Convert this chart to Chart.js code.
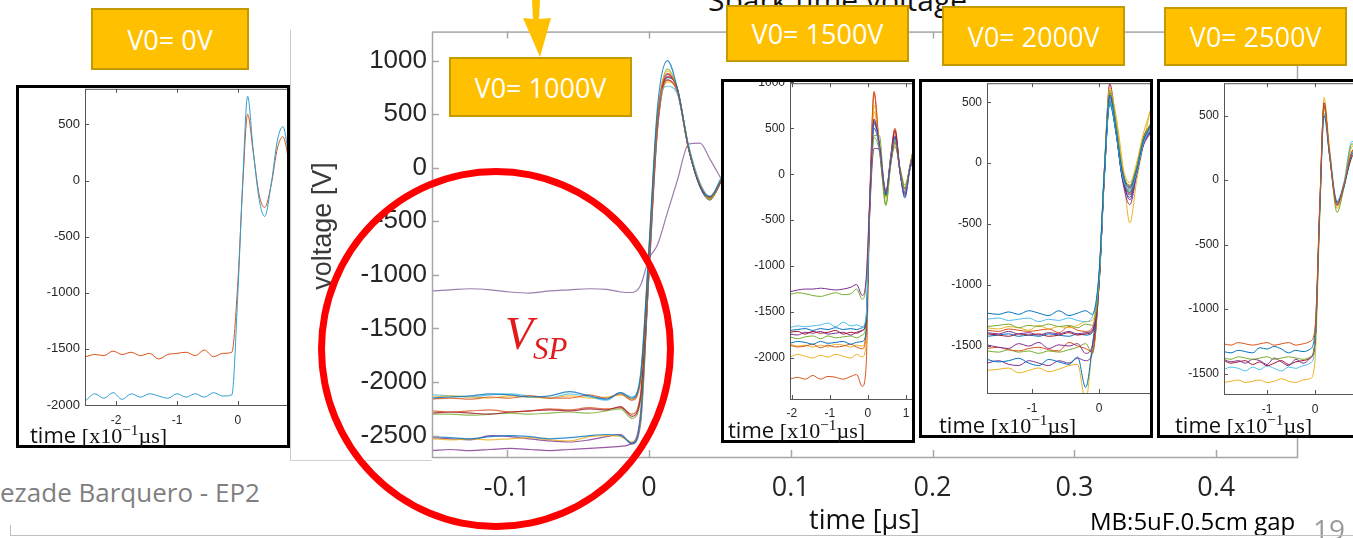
<!DOCTYPE html>
<html>
<head>
<meta charset="utf-8">
<script src="https://cdn.jsdelivr.net/npm/chart.js@4.4.1/dist/chart.umd.min.js"></script>
<style>
  html, body { margin: 0; padding: 0; }
  body { width: 1353px; height: 538px; position: relative; overflow: hidden; background: #fff; font-family: "Open Sans", sans-serif; }
  .abs { position: absolute; white-space: nowrap; }
  .inset { position: absolute; border: 3px solid #000; background: #fff; overflow: hidden; box-sizing: border-box; }
  .inset canvas { position: absolute; left: 0; top: 0; }
  .tag { position: absolute; background: #ffc000; border: 2px solid #c49a00; box-sizing: border-box; color: #fff; font: 27px "Open Sans"; display: flex; align-items: center; justify-content: center; }
  .tlabel { position: absolute; font: 22px "Liberation Serif"; line-height: 1; color: #111; white-space: nowrap; }
  .tlabel .s { font-family: "Open Sans"; }
  .tlabel .sup { font-size: 0.7em; position: relative; top: -0.55em; }
</style>
</head>
<body>
<div class="abs" style="left:708px;top:-15px;font:30px 'Open Sans';line-height:1;color:#111">Spark time voltage</div>

<div class="abs" style="left:290px;top:30px;width:1px;height:430px;background:#c8c8c8"></div>
<div class="abs" style="left:290px;top:460px;width:142px;height:1px;background:#d0d0d0"></div>
<canvas id="mainChart" class="abs" style="left:295px;top:20px" width="1010" height="518"></canvas>
<div class="abs" style="left:322px;top:226px;transform:translate(-50%,-50%) rotate(-90deg);font:27px 'Liberation Sans';color:#3a3a3a">voltage [V]</div>

<div class="inset" style="left:16px;top:85px;width:274px;height:363px"><canvas id="c0" width="281" height="357"></canvas></div>
<div class="inset" style="left:721px;top:79px;width:194px;height:364px"><canvas id="c1500" width="201" height="358"></canvas></div>
<div class="inset" style="left:919px;top:79px;width:234px;height:359px"><canvas id="c2000" width="238" height="353"></canvas></div>
<div class="inset" style="left:1157px;top:79px;width:260px;height:359px"><canvas id="c2500" width="250" height="353"></canvas></div>

<div class="tlabel" style="left:30px;top:423px"><span class="s">time </span>[x10<span class="sup">−1</span>µs]</div>
<div class="tlabel" style="left:728px;top:418px"><span class="s">time </span>[x10<span class="sup">−1</span>µs]</div>
<div class="tlabel" style="left:939px;top:413px"><span class="s">time </span>[x10<span class="sup">−1</span>µs]</div>
<div class="tlabel" style="left:1175px;top:413px"><span class="s">time </span>[x10<span class="sup">−1</span>µs]</div>

<div class="tag" style="left:91px;top:8px;width:158px;height:62px">V0= 0V</div>
<div class="tag" style="left:449px;top:57px;width:183px;height:60px">V0= 1000V</div>
<div class="tag" style="left:726px;top:5px;width:183px;height:57px">V0= 1500V</div>
<div class="tag" style="left:942px;top:6px;width:183px;height:60px">V0= 2000V</div>
<div class="tag" style="left:1164px;top:7px;width:183px;height:59px">V0= 2500V</div>

<svg class="abs" style="left:515px;top:0" width="40" height="60">
  <polygon points="17,0 25,0 24,19 36,18 25,57 8,18 18,19" fill="#ffc000"/>
</svg>

<div class="abs" style="left:318px;top:168px;width:356px;height:362px;border:7px solid #ff0000;border-radius:50%;box-sizing:border-box"></div>
<div class="abs" style="left:505px;top:311px;font:italic 46px 'Liberation Serif';line-height:1;color:#e31a1c">V<span style="font-size:31px;position:relative;top:10px">SP</span></div>

<div class="abs" style="left:0px;top:477px;font:26px 'Open Sans';line-height:1.2;color:#7f7f7f">ezade Barquero - EP2</div>
<div class="abs" style="left:1090px;top:507px;font:24px 'Open Sans';line-height:1.2;color:#000">MB:5uF.0.5cm gap</div>
<div class="abs" style="left:1313px;top:515px;font:28px 'Open Sans';line-height:1;color:#9a9a9a">19</div>
<div class="abs" style="left:10px;top:535px;width:1343px;height:1px;background:#bfbfbf"></div>
<div class="abs" style="left:10px;top:525px;width:1px;height:11px;background:#bfbfbf"></div>

<script>
// MATLAB default line colours
const BLUE = "#0072BD", ORANGE = "#D95319", YELLOW = "#EDB120", PURPLE = "#7E2F8E";
const GREEN = "#77AC30", LBLUE = "#4DBEEE", DRED = "#A2142F";

// ---- main plot: V0 = 1000 V, time in µs, voltage in V ----
const mainTime = [-0.153, -0.14, -0.126, -0.112, -0.098, -0.084, -0.07, -0.056, -0.042, -0.03, -0.02, -0.012,
  -0.006, 0, 0.006, 0.013, 0.02, 0.028, 0.036, 0.043, 0.052];
const mainTicksX = [-0.1, 0, 0.1, 0.2, 0.3, 0.4];
const mainTicksY = [-2500, -2000, -1500, -1000, -500, 0, 500, 1000];
const mainBlueA = [-2150, -2140, -2130, -2110, -2120, -2140, -2130, -2090, -2130, -2160, -2100, -2150, -1950, -750, 560, 1000, 740, 190, -170, -270, -80];
const mainOrangeA = [-2160, -2150, -2160, -2140, -2150, -2130, -2150, -2150, -2120, -2150, -2110, -2170, -2000, -800, 460, 880, 720, 170, -160, -280, -90];
const mainYellowA = [-2140, -2130, -2140, -2150, -2130, -2140, -2150, -2130, -2150, -2140, -2120, -2160, -1980, -780, 480, 900, 730, 190, -150, -290, -70];
const mainLBlueA = [-2120, -2130, -2140, -2120, -2110, -2130, -2150, -2110, -2140, -2170, -2100, -2140, -1930, -760, 500, 760, 690, 200, -140, -270, -60];
const mainRedB = [-2290, -2280, -2290, -2300, -2280, -2270, -2260, -2270, -2250, -2260, -2230, -2320, -2150, -850, 450, 850, 740, 180, -170, -280, -100];
const mainGreenB = [-2300, -2300, -2310, -2300, -2290, -2300, -2290, -2280, -2290, -2270, -2250, -2340, -2180, -860, 430, 920, 730, 200, -150, -300, -90];
const mainOrangeB = [-2270, -2280, -2270, -2260, -2280, -2270, -2250, -2260, -2240, -2250, -2240, -2300, -2120, -840, 440, 820, 710, 170, -160, -270, -80];
const mainBlueC = [-2510, -2520, -2530, -2510, -2500, -2510, -2530, -2520, -2500, -2490, -2500, -2570, -2350, -950, 400, 840, 740, 180, -170, -290, -100];
const mainYellowC = [-2530, -2540, -2530, -2540, -2530, -2520, -2540, -2550, -2510, -2500, -2510, -2560, -2380, -960, 380, 800, 720, 190, -160, -280, -80];
const mainPurpleC = [-2520, -2530, -2540, -2500, -2510, -2530, -2550, -2560, -2540, -2510, -2490, -2580, -2400, -980, 370, 870, 730, 180, -180, -300, -90];
const mainPurpleLow = [-2640, -2630, -2640, -2630, -2620, -2630, -2640, -2630, -2620, -2610, -2600, -2570, -2300, -1000, 350, 820, 710, 170, -170, -290, -100];
const mainPurpleSlow = [-1150, -1140, -1130, -1140, -1160, -1170, -1150, -1140, -1130, -1135, -1160, -1165, -1100, -850, -720, -420, -120, 220, 230, 80, -130];

// ---- V0 = 0 V inset, time in 1e-1 µs ----
const zeroTime = [-2.5, -2.35, -2.2, -2.05, -1.9, -1.75, -1.6, -1.45, -1.3, -1.15, -1.0, -0.85, -0.7, -0.55,
  -0.4, -0.25, -0.1, 0, 0.08, 0.16, 0.25, 0.35, 0.44, 0.55, 0.65, 0.74, 0.84, 0.95];
const zeroTicksX = [-2, -1, 0];
const zeroTicksY = [-2000, -1500, -1000, -500, 0, 500];
const zeroBlue = [-1960, -1900, -1940, -1890, -1950, -1900, -1930, -1900, -1920, -1940, -1900, -1930, -1900, -1930, -1890, -1920, -1910, -1000, 0, 750, 280, -170, -320, -20, 360, 480, 210, -50];
const zeroOrange = [-1570, -1550, -1560, -1520, -1550, -1530, -1560, -1540, -1590, -1550, -1540, -1530, -1560, -1510, -1570, -1540, -1530, -900, -40, 590, 260, -130, -240, -30, 290, 390, 170, -40];

// ---- V0 = 1500 V inset ----
const t1500 = [-2.05, -1.85, -1.65, -1.45, -1.25, -1.05, -0.85, -0.65, -0.45, -0.3, -0.15, -0.05,
  0.05, 0.16, 0.3, 0.47, 0.6, 0.71, 0.85, 0.97, 1.1, 1.18];
const ticks1500X = [-2, -1, 0, 1];
const ticks1500Y = [-2000, -1500, -1000, -500, 0, 500, 1000];
const k1500a = [-1280, -1260, -1250, -1250, -1240, -1250, -1260, -1250, -1230, -1200, -1320, -1150, -250, 560, 330, -200, 150, 420, 0, -240, 60, 200];
const k1500b = [-1310, -1290, -1300, -1320, -1330, -1310, -1290, -1310, -1300, -1250, -1360, -1200, -300, 420, 420, -330, 100, 360, 20, -150, 80, 250];
const k1500c = [-1670, -1650, -1660, -1650, -1640, -1620, -1660, -1610, -1650, -1640, -1660, -1550, -250, 550, 300, -200, 180, 380, 10, -200, 60, 200];
const k1500d = [-1700, -1690, -1680, -1700, -1680, -1690, -1670, -1690, -1680, -1690, -1670, -1580, -260, 580, 320, -230, 170, 400, 0, -260, 40, 180];
const k1500e = [-1720, -1710, -1740, -1710, -1730, -1720, -1700, -1740, -1720, -1730, -1700, -1600, -280, 600, 300, -200, 200, 480, 20, -200, 80, 220];
const k1500f = [-1740, -1750, -1720, -1730, -1710, -1740, -1730, -1720, -1750, -1720, -1700, -1620, -400, 280, 270, -180, 130, 350, 30, -160, 50, 160];
const k1500g = [-1770, -1790, -1770, -1760, -1790, -1760, -1780, -1770, -1760, -1780, -1750, -1650, -350, 400, 250, -340, 120, 300, 60, -120, 70, 200];
const k1500h = [-1840, -1820, -1830, -1850, -1820, -1840, -1830, -1820, -1850, -1830, -1820, -1720, -300, 500, 300, -220, 150, 400, 0, -220, 60, 200];
const k1500i = [-1860, -1880, -1870, -1850, -1890, -1860, -1880, -1870, -1850, -1880, -1900, -1750, -200, 900, 300, -230, 200, 500, 20, -200, 80, 250];
const k1500j = [-1850, -1870, -1860, -1880, -1860, -1880, -1850, -1860, -1880, -1860, -1870, -1740, -250, 750, 320, -250, 150, 380, 40, -180, 90, 230];
const k1500k = [-1990, -1960, -1980, -2000, -1970, -1990, -1960, -1980, -2000, -1960, -1990, -1850, -300, 680, 330, -260, 120, 320, 30, -150, 70, 190];
const k1500l = [-2230, -2210, -2230, -2190, -2230, -2200, -2210, -2230, -2200, -2180, -2310, -2100, -350, 880, 280, -220, 180, 460, 0, -210, 70, 210];

// ---- V0 = 2000 V inset ----
const t2000 = [-1.67, -1.5, -1.35, -1.2, -1.05, -0.9, -0.75, -0.6, -0.45, -0.32, -0.2, -0.1,
  0, 0.08, 0.16, 0.25, 0.35, 0.46, 0.56, 0.66, 0.76];
const ticks2000X = [-1, 0];
const ticks2000Y = [-1500, -1000, -500, 0, 500];
const k2000a = [-1230, -1240, -1220, -1240, -1210, -1230, -1250, -1210, -1250, -1230, -1210, -1240, -900, -50, 560, 300, -80, -200, -60, 180, 300];
const k2000b = [-1280, -1270, -1290, -1280, -1270, -1300, -1280, -1290, -1270, -1290, -1300, -1260, -920, -80, 520, 280, -100, -220, -80, 160, 280];
const k2000c = [-1340, -1330, -1320, -1350, -1330, -1340, -1320, -1340, -1330, -1350, -1320, -1330, -950, -60, 600, 330, -60, -180, -30, 200, 320];
const k2000d = [-1350, -1360, -1340, -1350, -1370, -1330, -1360, -1340, -1350, -1330, -1300, -1290, -940, -40, 620, 380, -20, -160, 0, 240, 420];
const k2000e = [-1370, -1380, -1360, -1370, -1380, -1370, -1360, -1390, -1340, -1370, -1380, -1350, -930, -70, 580, 320, -70, -210, -50, 190, 300];
const k2000f = [-1390, -1400, -1380, -1400, -1390, -1410, -1390, -1400, -1380, -1400, -1390, -1370, -960, -90, 540, 290, -110, -300, -90, 150, 260];
const k2000g = [-1400, -1410, -1420, -1400, -1410, -1400, -1420, -1410, -1390, -1410, -1400, -1380, -950, -50, 650, 340, -60, -190, -40, 210, 310];
const k2000h = [-1420, -1410, -1400, -1420, -1410, -1420, -1400, -1410, -1420, -1400, -1410, -1390, -970, -100, 480, 260, -120, -240, -70, 170, 270];
const k2000i = [-1490, -1510, -1520, -1480, -1500, -1470, -1520, -1490, -1500, -1480, -1560, -1500, -990, -110, 520, 270, -140, -340, -100, 140, 240];
const k2000j = [-1520, -1510, -1530, -1540, -1520, -1510, -1530, -1540, -1470, -1500, -1520, -1550, -1000, -90, 560, 300, -100, -250, -60, 180, 290];
const k2000k = [-1540, -1550, -1530, -1550, -1540, -1560, -1540, -1550, -1530, -1510, -1480, -1560, -1010, -120, 500, 290, -90, -230, -70, 170, 280];
const k2000l = [-1610, -1630, -1620, -1600, -1640, -1660, -1610, -1630, -1650, -1590, -1840, -1500, -980, -80, 500, 260, -130, -280, -90, 150, 250];
const k2000m = [-1640, -1620, -1650, -1660, -1620, -1640, -1660, -1620, -1640, -1600, -1620, -1560, -1000, -100, 510, 270, -120, -260, -80, 160, 260];
const k2000n = [-1700, -1690, -1680, -1720, -1700, -1680, -1710, -1690, -1660, -1650, -1950, -1500, -990, -70, 580, 400, 0, -490, -150, 150, 430];

// ---- V0 = 2500 V inset ----
const t2500 = [-1.9, -1.75, -1.6, -1.45, -1.3, -1.15, -1.0, -0.85, -0.7, -0.55, -0.4, -0.25, -0.1,
  0, 0.1, 0.19, 0.3, 0.46, 0.6, 0.77, 0.9];
const ticks2500X = [-1, 0];
const ticks2500Y = [-1500, -1000, -500, 0, 500];
const k2500a = [-1270, -1280, -1260, -1270, -1280, -1270, -1260, -1280, -1270, -1260, -1280, -1270, -1250, -1150, -180, 580, 220, -200, -40, 220, 250];
const k2500b = [-1330, -1340, -1320, -1330, -1340, -1300, -1310, -1290, -1310, -1340, -1320, -1330, -1310, -1180, -220, 500, 200, -180, -60, 200, 240];
const k2500c = [-1380, -1390, -1370, -1380, -1390, -1380, -1370, -1390, -1380, -1370, -1380, -1390, -1370, -1250, -240, 560, 230, -250, -60, 280, 280];
const k2500d = [-1390, -1410, -1400, -1420, -1390, -1400, -1430, -1380, -1410, -1440, -1390, -1420, -1380, -1260, -210, 570, 210, -170, -50, 220, 260];
const k2500e = [-1400, -1420, -1410, -1400, -1430, -1410, -1440, -1420, -1400, -1430, -1410, -1400, -1380, -1260, -200, 600, 200, -190, -40, 180, 240];
const k2500f = [-1470, -1450, -1460, -1480, -1450, -1470, -1440, -1460, -1480, -1450, -1460, -1440, -1420, -1300, -260, 520, 240, -160, -20, 300, 280];
const k2500g = [-1570, -1560, -1550, -1570, -1560, -1550, -1570, -1560, -1540, -1560, -1570, -1550, -1540, -1400, -280, 640, 260, -220, -60, 260, 280];

// draws the box round the plot and MATLAB style inward ticks
const boxTicks = {
  id: "boxTicks",
  afterDatasetsDraw(chart, args, o) {
    const { ctx, chartArea: a, scales } = chart;
    ctx.save();
    ctx.strokeStyle = o.color;
    ctx.lineWidth = o.width;
    ctx.beginPath();
    scales.x.ticks.forEach((t) => {
      const px = Math.round(scales.x.getPixelForValue(t.value)) + 0.5;
      ctx.moveTo(px, a.bottom); ctx.lineTo(px, a.bottom - o.len);
      ctx.moveTo(px, a.top); ctx.lineTo(px, a.top + o.len);
    });
    scales.y.ticks.forEach((t) => {
      const py = Math.round(scales.y.getPixelForValue(t.value)) + 0.5;
      ctx.moveTo(a.left, py); ctx.lineTo(a.left + o.len, py);
      ctx.moveTo(a.right, py); ctx.lineTo(a.right - o.len, py);
    });
    ctx.stroke();
    ctx.strokeRect(a.left + 0.5, a.top + 0.5, a.width, a.height);
    ctx.restore();
  },
};

// move / resize the canvas so the plot area lands on cfg.area (page px)
function placeArea(chart, cfg) {
  const [L, T, R, B] = cfg.area;
  for (let k = 0; k < 2; k++) {
    const a = chart.chartArea;
    const w = chart.width, h = chart.height;
    chart.canvas.style.left = (L - a.left - cfg.origin[0]) + "px";
    chart.canvas.style.top = (T - a.top - cfg.origin[1]) + "px";
    chart.resize(Math.round(a.left + (R - L) + (w - a.right)), Math.round(a.top + (B - T) + (h - a.bottom)));
  }
}

function makePlot(id, cfg) {
  const datasets = cfg.series.map(([color, vals]) => ({
    data: cfg.times.map((t, i) => ({ x: t, y: vals[i] })),
    borderColor: color,
    borderWidth: cfg.lineWidth,
    pointRadius: 0,
    cubicInterpolationMode: "monotone",
  }));
  const chart = new Chart(document.getElementById(id), {
    type: "line",
    data: { datasets },
    options: {
      responsive: false,
      maintainAspectRatio: false,
      animation: false,
      devicePixelRatio: 1,
      layout: { autoPadding: false, padding: { top: 0, right: cfg.padRight || 0, left: 0, bottom: 0 } },
      plugins: {
        legend: { display: false },
        tooltip: { enabled: false },
        boxTicks: { color: cfg.boxColor, width: cfg.boxWidth, len: cfg.tickLen },
      },
      scales: {
        x: {
          type: "linear",
          min: cfg.xRange[0],
          max: cfg.xRange[1],
          grid: { display: false, drawTicks: false },
          border: { display: false },
          afterBuildTicks: (s) => { s.ticks = cfg.xTicks.map((v) => ({ value: v })); },
          afterFit: (s) => { s.height = cfg.xAxisH; },
          ticks: { font: cfg.xFont, color: cfg.tickColor, padding: cfg.xPad, maxRotation: 0, autoSkip: false, callback: (v) => String(v) },
          title: cfg.xTitle || { display: false },
        },
        y: {
          min: cfg.yRange[0],
          max: cfg.yRange[1],
          grid: { display: false, drawTicks: false },
          border: { display: false },
          afterBuildTicks: (s) => { s.ticks = cfg.yTicks.map((v) => ({ value: v })); },
          afterFit: (s) => { s.width = cfg.yAxisW; },
          ticks: { font: cfg.yFont, color: cfg.tickColor, padding: cfg.yPad, autoSkip: false, callback: (v) => String(v) },
        },
      },
    },
    plugins: [boxTicks],
  });
  placeArea(chart, cfg);
  return chart;
}

const fade = (c) => c + "cc";

makePlot("mainChart", {
  times: mainTime,
  series: [
    [fade(BLUE), mainBlueA], [fade(ORANGE), mainOrangeA], [fade(YELLOW), mainYellowA], [fade(LBLUE), mainLBlueA],
    [fade(DRED), mainRedB], [fade(GREEN), mainGreenB], [fade(ORANGE), mainOrangeB],
    [fade(BLUE), mainBlueC], [fade(YELLOW), mainYellowC], [fade(PURPLE), mainPurpleC],
    [fade(PURPLE), mainPurpleLow], ["#9c7fb0", mainPurpleSlow],
  ],
  lineWidth: 1.2,
  area: [432, 32, 1297, 457],
  origin: [0, 0],
  xRange: [-0.153, 0.457],
  yRange: [-2700, 1270],
  xTicks: mainTicksX,
  yTicks: mainTicksY,
  padRight: 8,
  xAxisH: 81,
  yAxisW: 137,
  xPad: 15,
  yPad: 5,
  xFont: { family: "Open Sans", size: 27 },
  yFont: { family: "Liberation Sans", size: 26 },
  tickColor: "#262626",
  boxColor: "#a6a6a6",
  boxWidth: 1.5,
  tickLen: 7,
  xTitle: { display: true, text: "time [µs]", color: "#111", font: { family: "Open Sans", size: 27 }, padding: { top: 0, bottom: 0 } },
});

const insetStyle = {
  lineWidth: 1,
  xPad: 8,
  yPad: 5,
  xFont: { family: "Liberation Sans", size: 12 },
  yFont: { family: "Liberation Sans", size: 12 },
  tickColor: "#262626",
  boxColor: "#555",
  boxWidth: 1,
  tickLen: 4,
};

makePlot("c0", Object.assign({}, insetStyle, {
  times: zeroTime,
  series: [["#2f9fce", zeroBlue], [ORANGE, zeroOrange]],
  area: [85, 89, 300, 405],
  origin: [19, 88],
  xRange: [-2.51, 1.02],
  yRange: [-2000, 817],
  xTicks: zeroTicksX,
  yTicks: zeroTicksY,
  xAxisH: 40,
  yAxisW: 66,
  yFont: { family: "Liberation Sans", size: 13 },
}));

makePlot("c1500", Object.assign({}, insetStyle, {
  times: t1500,
  series: [[PURPLE, k1500a], [GREEN, k1500b], [LBLUE, k1500c], [BLUE, k1500d], [DRED, k1500e], [PURPLE, k1500f],
    [GREEN, k1500g], [BLUE, k1500h], [ORANGE, k1500i], [YELLOW, k1500j], [YELLOW, k1500k], [ORANGE, k1500l]],
  area: [790, 83, 925, 399],
  origin: [724, 82],
  xRange: [-2.05, 1.5],
  yRange: [-2446, 990],
  xTicks: ticks1500X,
  yTicks: ticks1500Y,
  xAxisH: 41,
  yAxisW: 66,
  xPad: 7,
}));

makePlot("c2000", Object.assign({}, insetStyle, {
  times: t2000,
  series: [[BLUE, k2000a], [LBLUE, k2000b], [GREEN, k2000c], [YELLOW, k2000d], [ORANGE, k2000e], [PURPLE, k2000f],
    [DRED, k2000g], [BLUE, k2000h], [PURPLE, k2000i], [ORANGE, k2000j], [GREEN, k2000k], [BLUE, k2000l],
    [PURPLE, k2000m], [YELLOW, k2000n]],
  area: [987, 83, 1160, 393],
  origin: [922, 82],
  xRange: [-1.672, 0.91],
  yRange: [-1885, 656],
  xTicks: ticks2000X,
  yTicks: ticks2000Y,
  xAxisH: 42,
  yAxisW: 65,
}));

makePlot("c2500", Object.assign({}, insetStyle, {
  times: t2500,
  series: [[ORANGE, k2500a], [BLUE, k2500b], [GREEN, k2500c], [PURPLE, k2500d], [DRED, k2500e], [LBLUE, k2500f], [YELLOW, k2500g]],
  area: [1224, 83, 1410, 394],
  origin: [1160, 82],
  xRange: [-1.896, 1.98],
  yRange: [-1659, 752],
  xTicks: ticks2500X,
  yTicks: ticks2500Y,
  xAxisH: 41,
  yAxisW: 64,
}));
</script>
</body>
</html>
